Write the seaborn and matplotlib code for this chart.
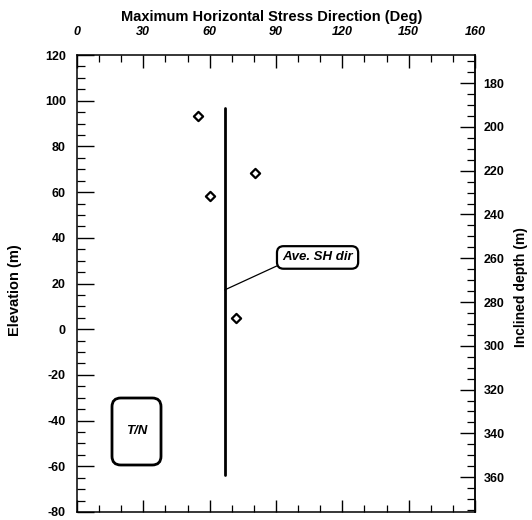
import numpy as np
import pandas as pd
import matplotlib
matplotlib.use("Agg")
import matplotlib.pyplot as plt
from matplotlib.patches import FancyBboxPatch
from matplotlib.ticker import MultipleLocator, FixedLocator, FixedFormatter
import seaborn as sns

# Measured SH directions (deg) against elevation (m)
sh_direction = [54.7, 80.5, 60.2, 71.9]
elevation = [93.3, 68.4, 58.3, 4.9]

# Extent of the averaged direction line (elevation, m)
ave_line_top = 97.0
ave_line_bottom = -64.0

# Top axis ticks and labels
x_tick_values = [0, 30, 60, 90, 120, 150, 180]
x_tick_labels = ["0", "30", "60", "90", "120", "150", "160"]

# Inclined depth scale: depth 180 m at elevation 107.7 m, 0.958 m elevation per m depth
depth_ref = 180.0
elev_ref = 107.7
elev_per_depth = 0.958
depth_ticks = [180, 200, 220, 240, 260, 280, 300, 320, 340, 360]

sns.set_theme(style="ticks")
plt.rcParams["font.family"] = ["Liberation Sans", "DejaVu Sans"]
plt.rcParams["font.weight"] = "bold"
plt.rcParams["text.color"] = "black"
plt.rcParams["axes.unicode_minus"] = False

fig = plt.figure(figsize=(5.32, 5.2), dpi=100)
W, H = 532, 520
left, right, top, bottom = 77, 475, 55, 512
ax = fig.add_axes([left / W, 1 - bottom / H, (right - left) / W, (bottom - top) / H])

df = pd.DataFrame({"dir": sh_direction, "elev": elevation})
sns.scatterplot(data=df, x="dir", y="elev", marker="D", s=22, color="white",
                edgecolor="black", linewidth=1.6, ax=ax, zorder=4)

ave_dir = float(np.mean(sh_direction))
line_df = pd.DataFrame({"dir": [ave_dir, ave_dir], "elev": [ave_line_top, ave_line_bottom]})
sns.lineplot(data=line_df, x="dir", y="elev", sort=False, estimator=None,
             orient="y", color="black", linewidth=2.0, ax=ax)

ax.set_xlim(0, 180)
ax.set_ylim(-80, 120)
ax.set_xlabel("")
ax.set_ylabel("")

for s in ax.spines.values():
    s.set_visible(True)
    s.set_linewidth(1.1)
    s.set_color("black")

# Top axis carries the direction labels; bottom only ticks
ax.xaxis.set_major_locator(FixedLocator(x_tick_values))
ax.xaxis.set_major_formatter(FixedFormatter(x_tick_labels))
ax.xaxis.set_minor_locator(MultipleLocator(10))
ax.tick_params(axis="x", which="both", direction="in", top=True, bottom=True,
               labeltop=True, labelbottom=False, colors="black")
ax.tick_params(axis="x", which="major", length=9, width=1.0, pad=12)
ax.tick_params(axis="x", which="minor", length=5, width=0.9)
for lab in ax.get_xticklabels():
    lab.set_fontstyle("italic")
    lab.set_fontweight("bold")
    lab.set_fontsize(9)

ax.yaxis.set_major_locator(MultipleLocator(20))
ax.yaxis.set_minor_locator(MultipleLocator(5))
ax.tick_params(axis="y", which="both", direction="in", left=True, right=False, colors="black")
ax.tick_params(axis="y", which="major", length=12, width=1.0, pad=8, labelsize=9)
ax.tick_params(axis="y", which="minor", length=6, width=0.9)
for lab in ax.get_yticklabels():
    lab.set_fontweight("bold")

# Right axis: inclined depth
def elev_to_depth(e):
    return depth_ref + (elev_ref - np.asarray(e)) / elev_per_depth

def depth_to_elev(d):
    return elev_ref - (np.asarray(d) - depth_ref) * elev_per_depth

sec = ax.secondary_yaxis("right", functions=(elev_to_depth, depth_to_elev))
sec.yaxis.set_major_locator(FixedLocator(depth_ticks))
sec.yaxis.set_minor_locator(MultipleLocator(5))
sec.tick_params(axis="y", which="both", direction="in", colors="black")
sec.tick_params(axis="y", which="major", length=11, width=1.0, pad=6, labelsize=9)
sec.tick_params(axis="y", which="minor", length=6, width=0.9)
sec.spines["right"].set_linewidth(1.1)
for lab in sec.get_yticklabels():
    lab.set_fontweight("bold")

# Callout for the average direction line
ax.annotate("Ave. SH dir", xy=(ave_dir, 17.2), xytext=(108.8, 31.4),
            fontsize=9.5, fontstyle="italic", fontweight="bold",
            ha="center", va="center", color="black",
            bbox=dict(boxstyle="round,pad=0.4,rounding_size=0.5", fc="white",
                      ec="black", lw=1.6),
            arrowprops=dict(arrowstyle="-", color="black", lw=0.9,
                            relpos=(0.0, 0.0), shrinkA=0, shrinkB=0))

# T/N box
ax_w, ax_h = right - left, bottom - top
bx0, by0 = (112 - left) / ax_w, (bottom - 465) / ax_h
bw, bh = 49 / ax_w, 67 / ax_h
box = FancyBboxPatch((bx0, by0), bw, bh, transform=ax.transAxes,
                     boxstyle="round,pad=0,rounding_size=0.022",
                     mutation_aspect=ax_w / ax_h, fc="white", ec="black", lw=2.0, zorder=3)
ax.add_patch(box)
ax.text(bx0 + bw / 2, by0 + bh / 2, "T/N", transform=ax.transAxes, ha="center",
        va="center", fontsize=9.5, fontstyle="italic", fontweight="bold", zorder=4)

fig.text(272 / W, 1 - 17 / H, "Maximum Horizontal Stress Direction (Deg)",
         ha="center", va="center", fontsize=10.5, fontweight="bold")
fig.text(15 / W, 1 - 290 / H, "Elevation (m)", rotation=90, ha="center",
         va="center", fontsize=10.5, fontweight="bold")
fig.text(521 / W, 1 - 287 / H, "Inclined depth (m)", rotation=90, ha="center",
         va="center", fontsize=10, fontweight="bold")

fig.savefig("out.png", dpi=100, facecolor="white")
